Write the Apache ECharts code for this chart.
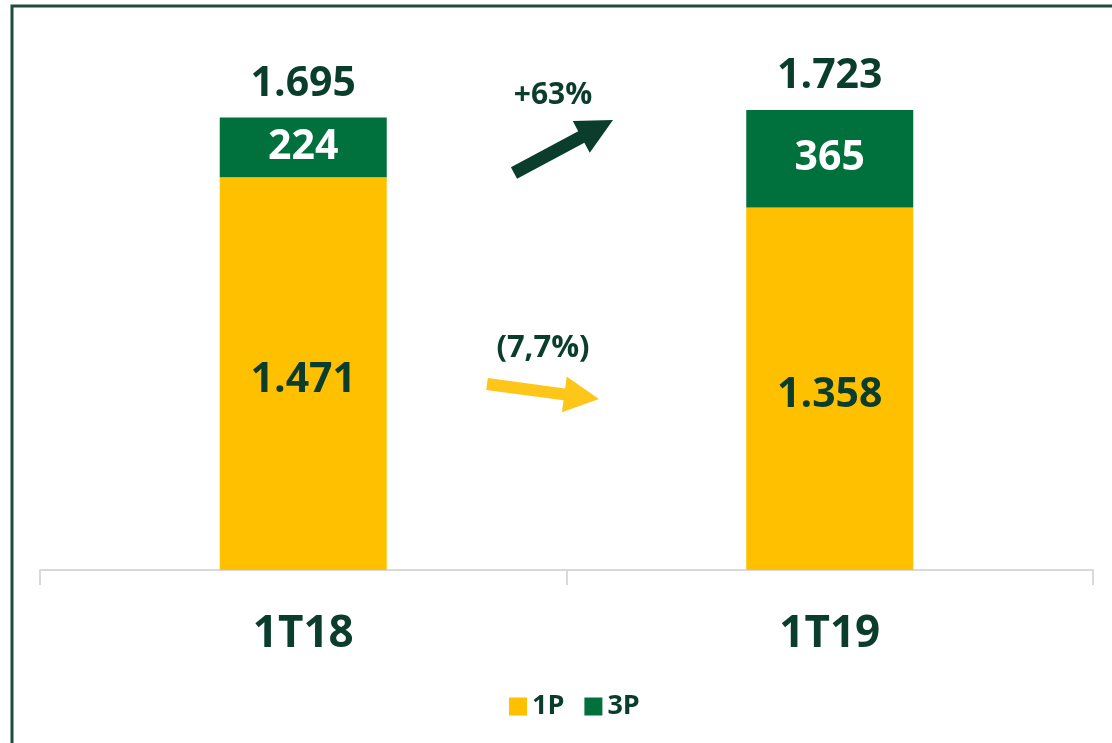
<!DOCTYPE html>
<html>
<head>
<meta charset="utf-8">
<script src="https://cdn.jsdelivr.net/npm/echarts@6/dist/echarts.min.js"></script>
<style>
  html, body { margin: 0; padding: 0; background: #fff; }
  #chart { width: 1112px; height: 743px; }
</style>
</head>
<body>
<div id="chart"></div>
<script>
const categories = ["1T18", "1T19"];
const firstParty = [1471, 1358];
const thirdParty = [224, 365];
const totals = [1695, 1723];
const growth3P = "+63%";
const growth1P = "(7,7%)";

const darkText = "#0B3D2C";
const yellow = "#FFC000";
const green = "#00703C";
const font = "'Open Sans', sans-serif";

// 1695 -> "1.695"
function fmt(v) {
  return String(v).replace(/\B(?=(\d{3})+(?!\d))/g, ".");
}

// polygon points for a block arrow from tail to tip
function arrow(tail, tip, shaftW, headW, headL) {
  const dx = tip[0] - tail[0];
  const dy = tip[1] - tail[1];
  const len = Math.sqrt(dx * dx + dy * dy);
  const ux = dx / len, uy = dy / len;
  const nx = -uy, ny = ux;
  const bx = tip[0] - ux * headL, by = tip[1] - uy * headL;
  return [
    [tail[0] + nx * shaftW / 2, tail[1] + ny * shaftW / 2],
    [bx + nx * shaftW / 2, by + ny * shaftW / 2],
    [bx + nx * headW / 2, by + ny * headW / 2],
    tip,
    [bx - nx * headW / 2, by - ny * headW / 2],
    [bx - nx * shaftW / 2, by - ny * shaftW / 2],
    [tail[0] - nx * shaftW / 2, tail[1] - ny * shaftW / 2],
  ];
}

const chart = echarts.init(document.getElementById("chart"));
const option = {
  animation: false,
  textStyle: { fontFamily: font },
  grid: { left: 40, right: 19, top: 36, bottom: 173 },
  legend: {
    data: ["1P", "3P"],
    top: 688,
    left: 504,
    icon: "rect",
    itemWidth: 18,
    itemHeight: 18,
    itemGap: 20,
    textStyle: { color: darkText, fontSize: 27, fontWeight: "bold", fontFamily: font },
  },
  xAxis: {
    type: "category",
    data: categories,
    axisLine: { lineStyle: { color: "#D9D9D9", width: 2 } },
    axisTick: { show: true, length: 15, lineStyle: { color: "#D9D9D9", width: 2 } },
    axisLabel: {
      margin: 42,
      color: darkText,
      fontSize: 44,
      fontWeight: "bold",
      fontFamily: font,
    },
  },
  yAxis: { type: "value", min: 0, max: 2000, show: false },
  series: [
    {
      name: "1P",
      type: "bar",
      stack: "total",
      barWidth: 167,
      data: firstParty,
      itemStyle: { color: yellow },
      label: {
        show: true,
        position: "inside",
        offset: [0, 7],
        formatter: (p) => fmt(p.value),
        color: darkText,
        fontSize: 41,
        fontWeight: "bold",
        fontFamily: font,
      },
    },
    {
      name: "3P",
      type: "bar",
      stack: "total",
      barWidth: 167,
      data: thirdParty,
      itemStyle: { color: green },
      label: {
        show: true,
        position: "inside",
        formatter: (p) => fmt(p.value),
        color: "#fff",
        fontSize: 41,
        fontWeight: "bold",
        fontFamily: font,
      },
    },
    {
      name: "Total",
      type: "scatter",
      data: totals,
      symbolSize: 0,
      itemStyle: { opacity: 1, color: darkText },
      label: {
        show: true,
        position: "top",
        distance: 13,
        formatter: (p) => fmt(p.value),
        color: darkText,
        opacity: 1,
        fontSize: 41,
        fontWeight: "bold",
        fontFamily: font,
      },
    },
  ],
  graphic: [
    {
      type: "rect",
      shape: { x: 12, y: 6, width: 1300, height: 900 },
      style: { fill: "none", stroke: "#1B4D3E", lineWidth: 3 },
      silent: true,
    },
    {
      type: "polygon",
      shape: { points: arrow([514, 173], [613, 120], 13, 36, 36) },
      style: { fill: "#0B3D2C" },
    },
    {
      type: "polygon",
      shape: { points: arrow([487, 384], [599, 399], 12, 36, 35) },
      style: { fill: "#FFC61A" },
    },
    {
      type: "text",
      x: 553,
      y: 95,
      style: {
        text: growth3P,
        fill: darkText,
        font: "bold 30px " + font,
        align: "center",
        verticalAlign: "middle",
      },
    },
    {
      type: "text",
      x: 543,
      y: 348,
      style: {
        text: growth1P,
        fill: darkText,
        font: "bold 31px " + font,
        align: "center",
        verticalAlign: "middle",
      },
    },
  ],
};
chart.setOption(option);
</script>
</body>
</html>
